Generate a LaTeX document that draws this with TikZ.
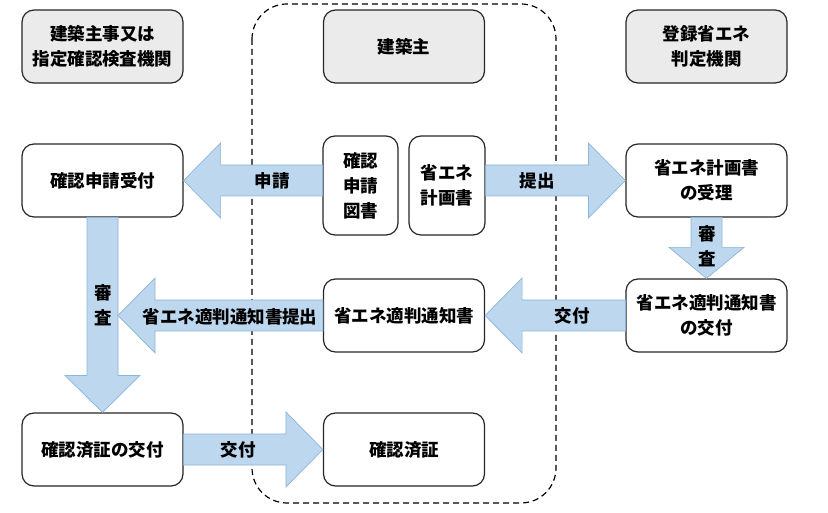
\documentclass[tikz,border=0pt]{standalone}
\usepackage{fontspec}
\setmainfont{Noto Sans CJK JP}
\usepackage{tikz}
\usetikzlibrary{calc, positioning}
\definecolor{arrowfill}{HTML}{BDD7EE}
\definecolor{arrowline}{HTML}{8EB4DA}
\definecolor{headgray}{HTML}{EBEBEB}

\tikzset{
    box/.style={draw=black!85, line width=1.2pt, rounded corners=12pt, fill=white, align=center,
        minimum width=161pt, minimum height=73pt, inner sep=0pt, font=\fontsize{17.5}{25}\selectfont\bfseries},
    headbox/.style={box, fill=headgray},
    lbl/.style={inner sep=0pt, align=center, font=\fontsize{17.5}{25}\selectfont\bfseries},
    bigarrow/.style={fill=arrowfill, draw=arrowline, line width=0.7pt, to path={
        ($(\tikztostart)!15.5pt!90:(\tikztotarget)$)
        -- ($(\tikztotarget)!#1!(\tikztostart)!15.5pt!90:(\tikztotarget)$)
        -- ($(\tikztotarget)!#1!(\tikztostart)!37.5pt!90:(\tikztotarget)$)
        -- (\tikztotarget)
        -- ($(\tikztotarget)!#1!(\tikztostart)!37.5pt!-90:(\tikztotarget)$)
        -- ($(\tikztotarget)!#1!(\tikztostart)!15.5pt!-90:(\tikztotarget)$)
        -- ($(\tikztostart)!15.5pt!-90:(\tikztotarget)$) -- cycle}},
    bigarrow/.default=37pt
}

\begin{document}
\begin{tikzpicture}[x=1pt, y=-1pt]
    \useasboundingbox (0,0) rectangle (828,513);

    \draw[dashed, dash pattern=on 6pt off 4pt, line width=1.2pt, rounded corners=35pt] (252,4) rectangle (556,503);

    \node[headbox] (auth) at (102.5,46.5) {建築主事又は\\指定確認検査機関};
    \node[headbox] (owner) at (404,46.5) {建築主};
    \node[headbox] (judge) at (706.5,46.5) {登録省エネ\\判定機関};

    \node[box] (cr) at (102.5,180.5) {確認申請受付};
    \node[box, minimum width=75pt, minimum height=99pt] (doc) at (360.5,185.5) {確認\\申請\\図書};
    \node[box, minimum width=76pt, minimum height=99pt] (plan) at (447,185.5) {省エネ\\計画書};
    \node[box] (rcv) at (706.5,180.5) {省エネ計画書\\の受理};

    \node[box] (notice) at (404,315.5) {省エネ適判通知書};
    \node[box] (issue) at (706.5,315.5) {省エネ適判通知書\\の交付};

    \node[box] (conf) at (102.5,449.5) {確認済証の交付};
    \node[box] (cert) at (404,449.5) {確認済証};

    \coordinate (appS) at (doc.west |- cr.east);
    \coordinate (subS) at (plan.east |- rcv.west);
    \coordinate (tipN) at ($(cr.south |- notice.west)+(15.5,0)$);

    \draw[bigarrow] (appS) to (cr.east);
    \draw[bigarrow] (subS) to (rcv.west);
    \draw[bigarrow=31pt] (rcv.south) to (issue.north);
    \draw[bigarrow] (cr.south) to (conf.north);
    \draw[bigarrow] (notice.west) to (tipN);
    \draw[bigarrow] (issue.west) to (notice.east);
    \draw[bigarrow] (conf.east) to (cert.west);

    \node[lbl] (lapp) at (272,181) {申請};
    \node[lbl] (lsub) at (537,181) {提出};
    \node[lbl] (lchk1) at (707,246) {審\\査};
    \node[lbl] (lchk2) at (103,305) {審\\査};
    \node[lbl] (lnot) at (230,317) {省エネ適判通知書提出};
    \node[lbl] (liss) at (572,316) {交付};
    \node[lbl] (lgive) at (238,450) {交付};
\end{tikzpicture}
\end{document}
